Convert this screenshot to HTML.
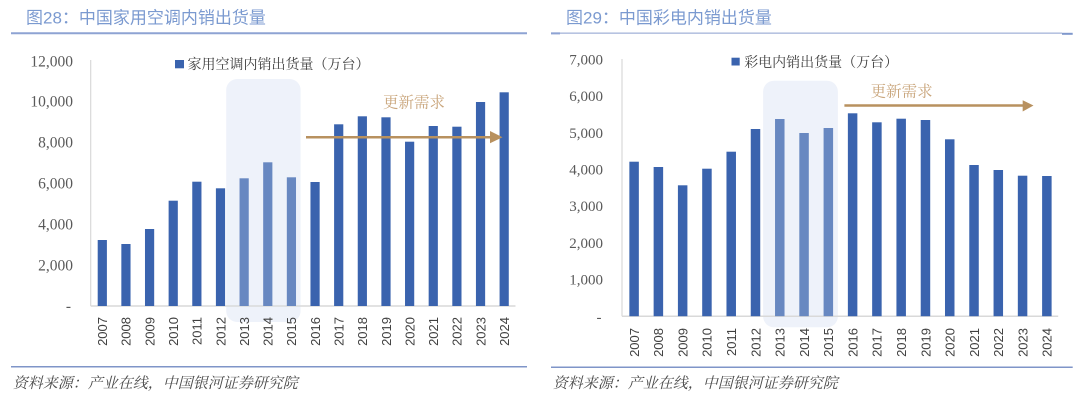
<!DOCTYPE html>
<html>
<head>
<meta charset="utf-8">
<style>
html,body{margin:0;padding:0;background:#fff;}
body{width:1080px;height:400px;overflow:hidden;}
svg{display:block;}
.ttl{font-family:"Liberation Sans","Noto Sans CJK SC",sans-serif;font-size:17px;fill:#7b9ad0;}
.yl{font-family:"Liberation Serif","Noto Serif CJK SC",serif;font-size:15.5px;fill:#595959;}
.yr{font-family:"Liberation Serif","Noto Serif CJK SC",serif;font-size:15px;fill:#595959;}
.xl{font-family:"Liberation Sans","Noto Sans CJK SC",sans-serif;font-size:13px;fill:#404040;}
.lg{font-family:"Liberation Serif","Noto Serif CJK SC",serif;font-size:14px;fill:#404040;}
.ann{font-family:"Liberation Serif","Noto Serif CJK SC",serif;font-size:15.5px;fill:#c9a57b;}
.src{font-family:"Liberation Serif","Noto Serif CJK SC",serif;font-size:15px;fill:#4a4a4a;font-style:italic;}
</style>
</head>
<body>
<svg width="1080" height="400" viewBox="0 0 1080 400" xmlns="http://www.w3.org/2000/svg">
<!-- ================= LEFT CHART ================= -->
<text class="ttl" x="26" y="23.5">图28：中国家用空调内销出货量</text>
<line x1="11" y1="33.3" x2="527" y2="33.3" stroke="#8ea3d3" stroke-width="2"/>

<rect x="226.2" y="79" width="74.4" height="243" rx="11" fill="#eef2fa"/>

<line x1="90.7" y1="60" x2="90.7" y2="306" stroke="#d9d9d9" stroke-width="1.2"/>
<line x1="90.7" y1="306" x2="515.5" y2="306" stroke="#d9d9d9" stroke-width="1.5"/>

<g class="yl" text-anchor="end">
<text x="73" y="66.5">12,000</text>
<text x="73" y="106.5">10,000</text>
<text x="73" y="147.5">8,000</text>
<text x="73" y="188.5">6,000</text>
<text x="73" y="229.5">4,000</text>
<text x="73" y="270.5">2,000</text>
<text x="71" y="311">-</text>
</g>

<g fill="#3a63ae">
<rect x="97.70" y="240" width="9.2" height="66"/>
<rect x="121.34" y="244" width="9.2" height="62"/>
<rect x="144.98" y="229" width="9.2" height="77"/>
<rect x="168.62" y="200.7" width="9.2" height="105.3"/>
<rect x="192.26" y="181.7" width="9.2" height="124.3"/>
<rect x="215.90" y="188.3" width="9.2" height="117.7"/>
<rect x="310.46" y="182" width="9.2" height="124"/>
<rect x="334.10" y="124.3" width="9.2" height="181.7"/>
<rect x="357.74" y="116.3" width="9.2" height="189.7"/>
<rect x="381.38" y="117.3" width="9.2" height="188.7"/>
<rect x="405.02" y="141.7" width="9.2" height="164.3"/>
<rect x="428.66" y="126" width="9.2" height="180"/>
<rect x="452.30" y="126.7" width="9.2" height="179.3"/>
<rect x="475.94" y="102" width="9.2" height="204"/>
<rect x="499.58" y="92.3" width="9.2" height="213.7"/>
</g>
<g fill="#6888c1">
<rect x="239.54" y="178.3" width="9.2" height="127.7"/>
<rect x="263.18" y="162.3" width="9.2" height="143.7"/>
<rect x="286.82" y="177.3" width="9.2" height="128.7"/>
</g>

<g class="xl" text-anchor="end">
<text transform="translate(107.1,317) rotate(-90)">2007</text>
<text transform="translate(130.74,317) rotate(-90)">2008</text>
<text transform="translate(154.38,317) rotate(-90)">2009</text>
<text transform="translate(178.02,317) rotate(-90)">2010</text>
<text transform="translate(201.66,317) rotate(-90)">2011</text>
<text transform="translate(225.3,317) rotate(-90)">2012</text>
<text transform="translate(248.94,317) rotate(-90)">2013</text>
<text transform="translate(272.58,317) rotate(-90)">2014</text>
<text transform="translate(296.22,317) rotate(-90)">2015</text>
<text transform="translate(319.86,317) rotate(-90)">2016</text>
<text transform="translate(343.5,317) rotate(-90)">2017</text>
<text transform="translate(367.14,317) rotate(-90)">2018</text>
<text transform="translate(390.78,317) rotate(-90)">2019</text>
<text transform="translate(414.42,317) rotate(-90)">2020</text>
<text transform="translate(438.06,317) rotate(-90)">2021</text>
<text transform="translate(461.7,317) rotate(-90)">2022</text>
<text transform="translate(485.34,317) rotate(-90)">2023</text>
<text transform="translate(508.98,317) rotate(-90)">2024</text>
</g>

<rect x="175" y="60" width="9" height="8.3" fill="#3a63ae"/>
<text class="lg" x="187.5" y="69">家用空调内销出货量（万台）</text>

<text class="ann" x="383" y="107.5">更新需求</text>
<line x1="306" y1="137.3" x2="492" y2="137.3" stroke="#b8915f" stroke-width="2.5"/>
<polygon points="490,131 502.5,137.3 490,143.3" fill="#b8915f"/>

<line x1="11" y1="366.7" x2="527" y2="366.7" stroke="#7f95c8" stroke-width="1.5"/>
<text class="src" x="12.7" y="388">资料来源：产业在线，中国银河证券研究院</text>

<!-- ================= RIGHT CHART ================= -->
<text class="ttl" x="566" y="23.5">图29：中国彩电内销出货量</text>
<line x1="551" y1="33.2" x2="1062" y2="33.2" stroke="#b7c3e1" stroke-width="1.6"/>
<line x1="551" y1="33.4" x2="560" y2="33.4" stroke="#8ea3d3" stroke-width="2"/>
<line x1="1062" y1="33.8" x2="1072.7" y2="33.8" stroke="#7f98cc" stroke-width="2"/>

<rect x="763.1" y="80.7" width="74.8" height="246.6" rx="11" fill="#eef2fa"/>

<line x1="622" y1="59" x2="622" y2="316.2" stroke="#d9d9d9" stroke-width="1.2"/>
<line x1="622" y1="316.2" x2="1058.2" y2="316.2" stroke="#d9d9d9" stroke-width="1.5"/>

<g class="yr" text-anchor="end">
<text x="603" y="64.5">7,000</text>
<text x="603" y="101.2">6,000</text>
<text x="603" y="137.9">5,000</text>
<text x="603" y="174.5">4,000</text>
<text x="603" y="211.2">3,000</text>
<text x="603" y="247.9">2,000</text>
<text x="603" y="284.5">1,000</text>
<text x="601.5" y="322">-</text>
</g>

<g fill="#3a63ae">
<rect x="629.35" y="161.7" width="9.5" height="154.5"/>
<rect x="653.63" y="167" width="9.5" height="149.2"/>
<rect x="677.91" y="185.3" width="9.5" height="130.9"/>
<rect x="702.19" y="168.7" width="9.5" height="147.5"/>
<rect x="726.47" y="151.7" width="9.5" height="164.5"/>
<rect x="750.75" y="129" width="9.5" height="187.2"/>
<rect x="847.87" y="113.3" width="9.5" height="202.9"/>
<rect x="872.15" y="122.3" width="9.5" height="193.9"/>
<rect x="896.43" y="118.7" width="9.5" height="197.5"/>
<rect x="920.71" y="120" width="9.5" height="196.2"/>
<rect x="944.99" y="139.3" width="9.5" height="176.9"/>
<rect x="969.27" y="165" width="9.5" height="151.2"/>
<rect x="993.55" y="170" width="9.5" height="146.2"/>
<rect x="1017.83" y="175.7" width="9.5" height="140.5"/>
<rect x="1042.11" y="176" width="9.5" height="140.2"/>
</g>
<g fill="#6888c1">
<rect x="775.03" y="119" width="9.5" height="197.2"/>
<rect x="799.31" y="133" width="9.5" height="183.2"/>
<rect x="823.59" y="128" width="9.5" height="188.2"/>
</g>

<g class="xl" text-anchor="end">
<text transform="translate(638.9,328) rotate(-90)">2007</text>
<text transform="translate(663.18,328) rotate(-90)">2008</text>
<text transform="translate(687.46,328) rotate(-90)">2009</text>
<text transform="translate(711.74,328) rotate(-90)">2010</text>
<text transform="translate(736.02,328) rotate(-90)">2011</text>
<text transform="translate(760.3,328) rotate(-90)">2012</text>
<text transform="translate(784.58,328) rotate(-90)">2013</text>
<text transform="translate(808.86,328) rotate(-90)">2014</text>
<text transform="translate(833.14,328) rotate(-90)">2015</text>
<text transform="translate(857.42,328) rotate(-90)">2016</text>
<text transform="translate(881.7,328) rotate(-90)">2017</text>
<text transform="translate(905.98,328) rotate(-90)">2018</text>
<text transform="translate(930.26,328) rotate(-90)">2019</text>
<text transform="translate(954.54,328) rotate(-90)">2020</text>
<text transform="translate(978.82,328) rotate(-90)">2021</text>
<text transform="translate(1003.1,328) rotate(-90)">2022</text>
<text transform="translate(1027.38,328) rotate(-90)">2023</text>
<text transform="translate(1051.66,328) rotate(-90)">2024</text>
</g>

<rect x="731.5" y="57.7" width="8.2" height="7.8" fill="#3a63ae"/>
<text class="lg" x="744.2" y="66.8">彩电内销出货量（万台）</text>

<text class="ann" x="870.6" y="96.5">更新需求</text>
<line x1="844.4" y1="105.5" x2="1024" y2="105.5" stroke="#b8915f" stroke-width="2.5"/>
<polygon points="1022.7,100.2 1033.5,105.5 1022.7,111.5" fill="#b8915f"/>

<line x1="551" y1="367.3" x2="1072.7" y2="367.3" stroke="#7f95c8" stroke-width="1.5"/>
<text class="src" x="552.7" y="388">资料来源：产业在线，中国银河证券研究院</text>
</svg>
</body>
</html>
